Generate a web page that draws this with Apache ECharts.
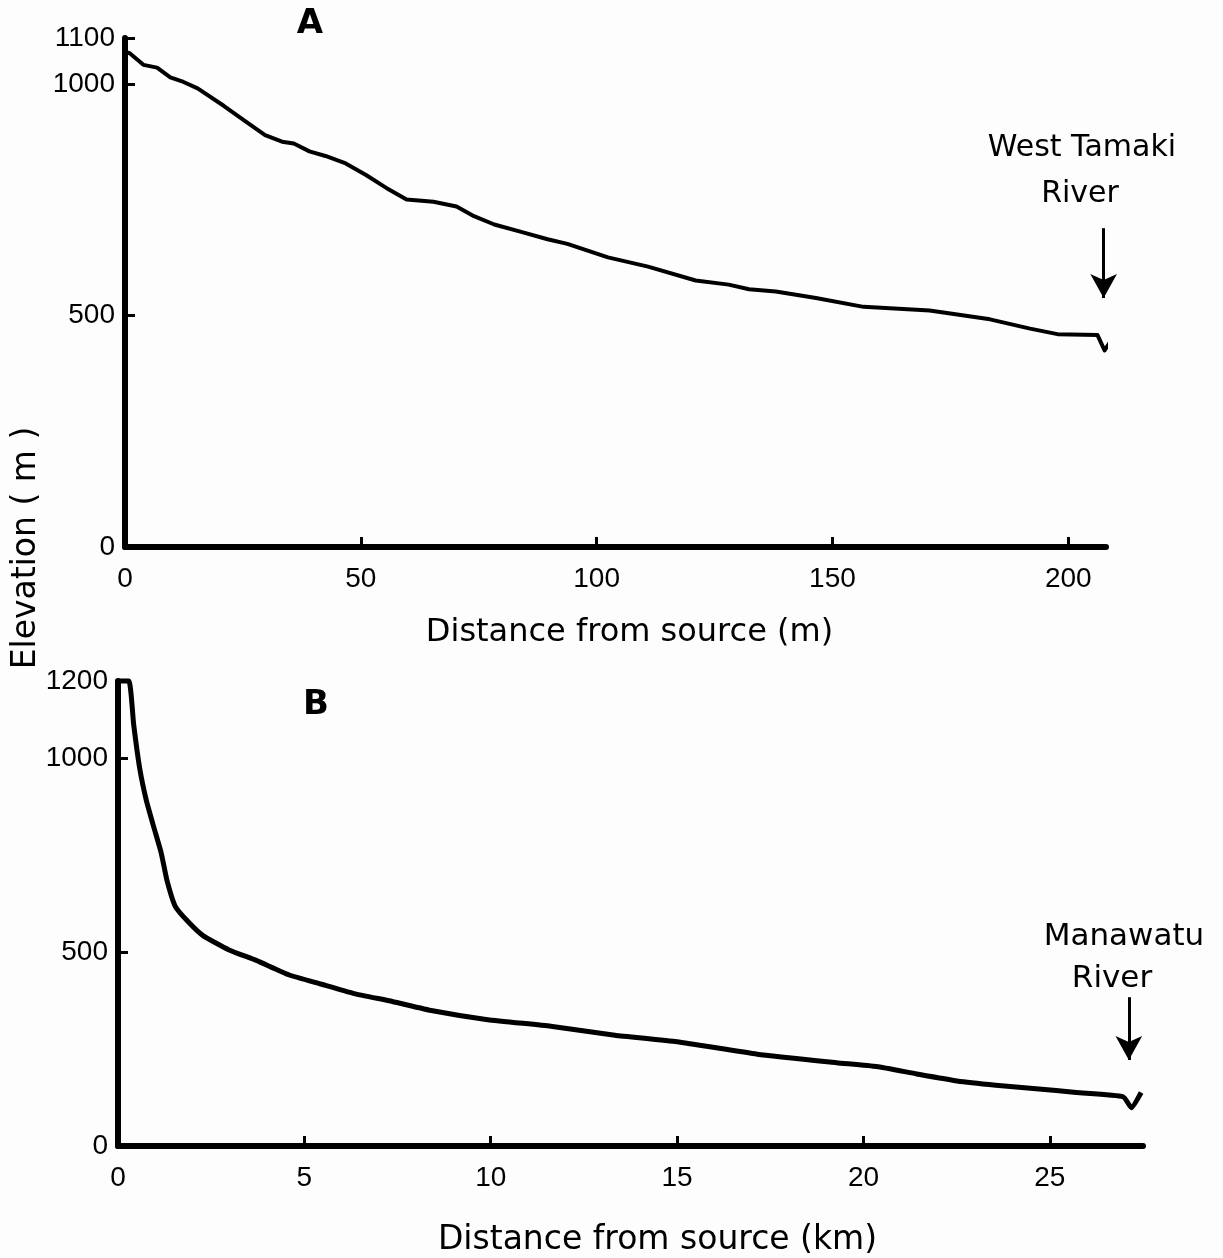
<!DOCTYPE html>
<html>
<head>
<meta charset="utf-8">
<script src="https://cdn.jsdelivr.net/npm/echarts@6/dist/echarts.min.js"></script>
<style>
  html, body { margin: 0; padding: 0; background: #fdfdfd; }
  #chart { width: 1223px; height: 1258px; }
</style>
</head>
<body>
<div id="chart"></div>
<script>
// Profile A: small stream, distance in metres, elevation in metres
const distA = [0, 1.0, 3.9, 6.8, 9.6, 12.4, 15.4, 21.0, 25.4, 29.7, 33.3, 35.8, 39.1, 42.5, 46.8,
  51.1, 55.4, 59.7, 65.4, 70.3, 74.0, 78.3, 84.0, 89.6, 93.8, 102.4, 110.9, 121.0, 128.0, 132.3,
  138.0, 146.5, 156.6, 170.6, 183.4, 191.9, 197.7, 206.2, 207.7, 209.8];
const elevA = [1070, 1067, 1042, 1036, 1015, 1005, 991, 953, 921, 890, 876, 872, 855, 845, 829,
  804, 776, 751, 746, 736, 715, 697, 681, 665, 655, 626, 606, 576, 567, 557,
  552, 538, 519, 511, 492, 472, 460, 458, 425, 458];

// Profile B: distance in kilometres, elevation in metres
const distB = [0, 0.29, 0.42, 0.58, 0.76, 0.96, 1.16, 1.31, 1.54, 1.89, 2.28, 2.98, 3.71, 4.58,
  5.44, 6.31, 7.36, 8.44, 9.92, 11.61, 13.33, 15.0, 17.15, 19.28, 20.35, 21.43, 22.51, 23.55,
  24.63, 25.71, 26.97, 27.19, 27.45];
const elevB = [1200, 1200, 1088, 976, 892, 823, 756, 687, 618, 578, 543, 506, 479, 442,
  418, 394, 373, 349, 326, 309, 286, 269, 237, 215, 205, 186, 168, 157,
  148, 138, 127, 99, 138];

// Axis ticks and labels
const xTicksA = [0, 50, 100, 150, 200];
const yTicksA = [0, 500, 1000, 1100];
const xTicksB = [0, 5, 10, 15, 20, 25];
const yTicksB = [0, 500, 1000, 1200];

// River junction arrows: [distance, top elevation, tip elevation]
const arrowA = [207.5, 689, 538];
const arrowB = [27.12, 384, 222];

const INK = '#000';
const NUM_FONT = '"Liberation Sans Narrow", "Liberation Sans", sans-serif';
const TXT_FONT = '"DejaVu Sans", sans-serif';

function pairs(xs, ys) { return xs.map((x, i) => [x, ys[i]]); }

function xAxisFor(gridIndex, max, ticks, name, gap, nameSize, shift) {
  return {
    type: 'value', gridIndex, min: 0, max,
    axisLine: { lineStyle: { color: INK, width: 6, cap: 'round' } },
    axisTick: { inside: true, length: 10, lineStyle: { color: INK, width: 3 },
      customValues: ticks.filter(v => v !== 0) },
    axisLabel: { customValues: ticks, margin: 18, fontSize: 28, color: INK, fontFamily: NUM_FONT,
      formatter: v => String(v) },
    splitLine: { show: false },
    name, nameLocation: 'middle', nameGap: gap,
    nameTextStyle: { fontSize: nameSize, color: INK, fontFamily: TXT_FONT, padding: [0, 0, 0, shift] }
  };
}

function yAxisFor(gridIndex, max, ticks) {
  return {
    type: 'value', gridIndex, min: 0, max,
    axisLine: { lineStyle: { color: INK, width: 6, cap: 'round' } },
    axisTick: { inside: true, length: 10, lineStyle: { color: INK, width: 3 },
      customValues: ticks.filter(v => v !== 0) },
    axisLabel: { customValues: ticks, margin: 10, fontSize: 28, color: INK, fontFamily: NUM_FONT,
      formatter: v => String(v) },
    splitLine: { show: false }
  };
}

function arrowLine(a) {
  return {
    silent: true, animation: false,
    symbol: ['none', 'arrow'], symbolSize: [20, 24],
    label: { show: false },
    lineStyle: { color: INK, width: 3, type: 'solid' },
    data: [[{ coord: [a[0], a[1]] }, { coord: [a[0], a[2]] }]]
  };
}

function profileSeries(idx, xs, ys, width, smooth, arrow) {
  return {
    type: 'line', xAxisIndex: idx, yAxisIndex: idx,
    data: pairs(xs, ys),
    showSymbol: false, clip: false, smooth,
    lineStyle: { color: INK, width, join: 'round' },
    markLine: arrowLine(arrow)
  };
}

const chart = echarts.init(document.getElementById('chart'), null, { renderer: 'canvas' });

chart.setOption({
  backgroundColor: '#fdfdfd',
  animation: false,
  grid: [
    { left: 125, top: 38, width: 981, height: 509 },
    { left: 118, top: 681, width: 1025, height: 476 }
  ],
  xAxis: [
    xAxisFor(0, 208, xTicksA, 'Distance from source (m)', 70, 32, 28),
    xAxisFor(1, 27.5, xTicksB, 'Distance from source (km)', 78, 33, 54)
  ],
  yAxis: [
    yAxisFor(0, 1100, yTicksA),
    yAxisFor(1, 1200, yTicksB)
  ],
  series: [
    profileSeries(0, distA, elevA, 4, false, arrowA),
    profileSeries(1, distB, elevB, 5, 0.15, arrowB)
  ],
  graphic: [
    { type: 'text', x: 310, y: 24, style: { text: 'A', font: 'bold 34px ' + TXT_FONT, fill: INK, align: 'center', verticalAlign: 'middle' } },
    { type: 'text', x: 316, y: 705, style: { text: 'B', font: 'bold 34px ' + TXT_FONT, fill: INK, align: 'center', verticalAlign: 'middle' } },
    { type: 'text', x: 26, y: 548, rotation: Math.PI / 2,
      style: { text: 'Elevation ( m )', font: '33px ' + TXT_FONT, fill: INK, align: 'center', verticalAlign: 'middle' } },
    { type: 'text', x: 1082, y: 148, style: { text: 'West Tamaki', font: '30px ' + TXT_FONT, fill: INK, align: 'center', verticalAlign: 'middle' } },
    { type: 'text', x: 1080, y: 194, style: { text: 'River', font: '30px ' + TXT_FONT, fill: INK, align: 'center', verticalAlign: 'middle' } },
    { type: 'text', x: 1124, y: 937, style: { text: 'Manawatu', font: '31px ' + TXT_FONT, fill: INK, align: 'center', verticalAlign: 'middle' } },
    { type: 'text', x: 1112, y: 979, style: { text: 'River', font: '31px ' + TXT_FONT, fill: INK, align: 'center', verticalAlign: 'middle' } }
  ]
});
</script>
</body>
</html>
